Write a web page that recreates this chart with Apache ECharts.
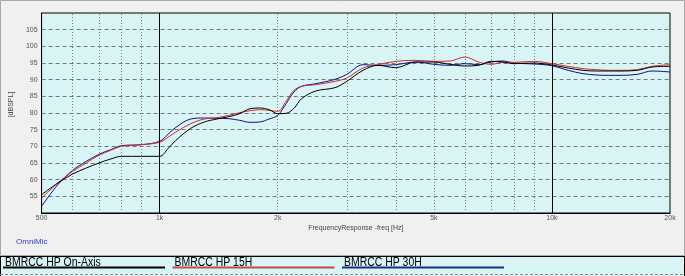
<!DOCTYPE html>
<html><head><meta charset="utf-8">
<script src="https://cdn.jsdelivr.net/npm/echarts@6/dist/echarts.min.js"></script>
<style>html,body{margin:0;padding:0;background:#f0f0f0;}#c{width:685px;height:276px;}</style>
</head><body><div id="c"></div>
<script>
const freqs = [500, 550, 600, 650, 700, 750, 800, 900, 1000, 1050, 1100, 1200, 1300, 1400, 1500, 1600, 1700, 1800, 1900, 2000, 2100, 2200, 2300, 2500, 2800, 3000, 3300, 3600, 4000, 4500, 5000, 5500, 6000, 6500, 7000, 7500, 8000, 9000, 10000, 11000, 12000, 13000, 14000, 15000, 16500, 18000, 20000];
const onAxis = [55.5, 59.0, 61.7, 63.5, 65.0, 66.2, 67.0, 67.0, 67.0, 69.3, 71.8, 75.4, 77.3, 78.2, 78.9, 79.8, 81.3, 81.5, 81.0, 79.8, 79.9, 81.4, 84.3, 86.6, 87.6, 89.5, 92.8, 94.3, 93.6, 95.3, 95.3, 94.6, 94.1, 94.3, 95.5, 95.3, 94.8, 95.0, 94.4, 93.5, 92.8, 92.6, 92.6, 92.6, 92.8, 93.8, 94.0];
const h15 = [54.5, 59.0, 62.5, 65.0, 67.3, 68.8, 70.0, 70.5, 71.2, 72.7, 74.3, 76.8, 78.2, 78.6, 79.3, 80.1, 80.7, 81.0, 80.8, 80.5, 83.5, 86.8, 88.0, 88.5, 89.5, 90.5, 93.5, 94.5, 95.5, 95.8, 95.5, 95.6, 96.8, 95.3, 94.6, 95.2, 95.2, 95.5, 94.8, 94.0, 93.3, 93.0, 92.8, 92.8, 93.0, 94.0, 94.5];
const h30 = [52.0, 58.5, 62.8, 65.5, 67.6, 69.0, 70.2, 70.5, 71.5, 73.6, 75.7, 78.2, 78.5, 78.4, 78.3, 77.8, 77.2, 77.3, 78.2, 79.3, 82.8, 86.3, 88.0, 88.8, 90.1, 91.6, 94.5, 94.3, 94.5, 95.3, 94.6, 94.3, 94.8, 94.5, 95.3, 95.6, 95.0, 94.7, 94.2, 92.8, 91.8, 91.4, 91.3, 91.3, 91.6, 92.6, 92.3];
const seriesNames = ['BMRCC HP On-Axis', 'BMRCC HP 15H', 'BMRCC HP 30H'];
const seriesColors = ['#000000', '#d42a2a', '#10108c'];
const legendColors = ['#000000', '#c84848', '#1c2a8c'];
const minorGridFreqs = [600, 700, 800, 900, 2000, 3000, 4000, 5000, 6000, 7000, 8000, 9000];
const majorGridFreqs = [1000, 10000];
const tickFreqs = [500, 1000, 2000, 5000, 10000, 20000];
const tickLabels = ['500', '1k', '2k', '5k', '10k', '20k'];
const yLabelValues = [55, 60, 65, 70, 75, 80, 85, 90, 95, 100, 105];

const chart = echarts.init(document.getElementById('c'), null, {renderer: 'canvas'});
const allSeries = [onAxis, h15, h30];
const lineFont = "'Liberation Sans', Arial, sans-serif";

const markData = [];
minorGridFreqs.forEach(f => markData.push({xAxis: f, lineStyle: {color: '#6f8484', width: 1, type: [1, 2]}, label: {show: false}}));
majorGridFreqs.forEach(f => markData.push({xAxis: f, lineStyle: {color: '#000', width: 1, type: 'solid'}, label: {show: false}}));
tickFreqs.forEach((f, i) => markData.push({xAxis: f, lineStyle: {color: 'rgba(0,0,0,0)', width: 0}, label: {show: true, position: 'start', formatter: tickLabels[i], distance: 2, fontSize: 7, color: '#555', fontFamily: lineFont}}));

const legendGraphics = [];
seriesNames.forEach((n, i) => {
  const x0 = 3 + i * 169.5;
  legendGraphics.push({type: 'text', x: x0 + 2, y: 257, scaleX: 0.87, style: {text: n, fontSize: 12, fill: '#000', fontFamily: lineFont}});
  legendGraphics.push({type: 'line', shape: {x1: x0, y1: 267.5, x2: x0 + 162, y2: 267.5}, style: {stroke: legendColors[i], lineWidth: 2}});
});

chart.setOption({
  animation: false,
  backgroundColor: '#f0f0f0',
  grid: {left: 35, top: 13, width: 635, height: 200, show: true, backgroundColor: '#d8f4f4', borderColor: '#000', borderWidth: 1},
  xAxis: {
    type: 'log', logBase: 10, min: 500, max: 20000,
    name: 'FrequencyResponse -freq [Hz]', nameLocation: 'middle', nameGap: 12,
    nameTextStyle: {fontSize: 7, color: '#444', fontFamily: lineFont},
    axisLine: {show: true, lineStyle: {color: '#000'}},
    axisTick: {show: false}, axisLabel: {show: false}, splitLine: {show: false}
  },
  yAxis: {
    type: 'value', min: 50, max: 110, interval: 5,
    name: '[dBSPL]', nameLocation: 'middle', nameGap: 11, nameRotate: 90,
    nameTextStyle: {fontSize: 7, color: '#444', fontFamily: lineFont, padding: [0, 0, 0, 17]},
    axisLine: {show: true, lineStyle: {color: '#000'}},
    axisTick: {show: false},
    axisLabel: {fontSize: 7, color: '#555', margin: 4, fontFamily: lineFont,
      formatter: v => yLabelValues.indexOf(v) >= 0 ? String(v) : ''},
    splitLine: {show: true, lineStyle: {color: '#6e7a7a', width: 1, type: [4, 3]}}
  },
  series: [
    {type: 'line', name: 'grid', data: [], silent: true, z: 1,
     markLine: {silent: true, symbol: ['none', 'none'], animation: false, data: markData}}
  ].concat(allSeries.map((vals, i) => ({
    type: 'line', name: seriesNames[i], showSymbol: false, smooth: 0.35,
    data: freqs.map((f, j) => [f, vals[j]]),
    lineStyle: {color: seriesColors[i], width: 1}, itemStyle: {color: seriesColors[i]},
    z: 3 + (2 - i)
  }))),
  graphic: [
    {type: 'rect', shape: {x: 0.5, y: 0.5, width: 684, height: 255}, style: {fill: 'none', stroke: '#a8a8a8', lineWidth: 1}},
    {type: 'text', left: 16, top: 238, style: {text: 'OmniMic', fontSize: 8, fill: '#3a3ac8', fontFamily: lineFont}},
    {type: 'rect', shape: {x: 0, y: 256, width: 685, height: 20}, style: {fill: '#d8f4f4'}},
    {type: 'line', shape: {x1: 0, y1: 256.5, x2: 685, y2: 256.5}, style: {stroke: '#000', lineWidth: 1}},
    {type: 'line', shape: {x1: 0.5, y1: 256, x2: 0.5, y2: 276}, style: {stroke: '#000', lineWidth: 1}},
    {type: 'line', shape: {x1: 684.5, y1: 256, x2: 684.5, y2: 276}, style: {stroke: '#000', lineWidth: 1}},
    {type: 'line', shape: {x1: 0, y1: 274.5, x2: 685, y2: 274.5}, style: {stroke: '#888', lineWidth: 1, lineDash: [3, 2]}}
  ].concat(legendGraphics)
});
</script></body></html>
